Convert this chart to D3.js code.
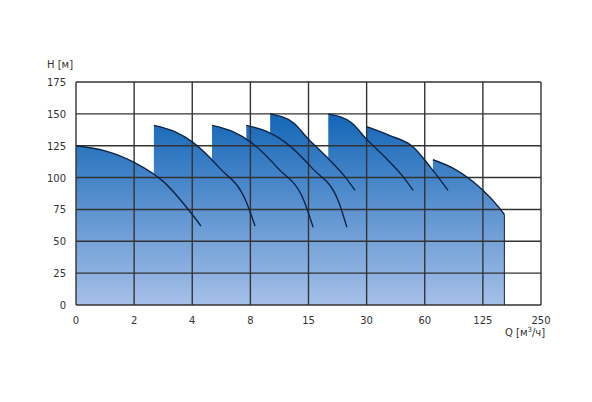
<!DOCTYPE html><html><head><meta charset="utf-8"><script src="https://cdn.jsdelivr.net/npm/d3@7"></script>
<style>body{margin:0;background:#fff}</style></head><body><svg id="c" width="592" height="402"></svg><script>
const xTicks=["0","2","4","8","15","30","60","125","250"];
const yTicks=[0,25,50,75,100,125,150,175];
// curves: [position on category axis (index units), H in m]
const curve1=[[0,125],[0.5,121],[1,112],[1.5,97],[2,71],[2.15,62]];
const curve2=[[1.34,141],[1.7,136],[2.0,128],[2.48,107],[2.92,82],[3.08,62]];
const curve3=[[2.34,141],[2.7,136],[3.0,128],[3.48,107],[3.92,82],[4.08,61]];
const curve4=[[2.93,141],[3.29,136],[3.59,128],[4.07,107],[4.51,82],[4.66,61]];
const curve5=[[3.34,150],[3.74,143],[4.0,130],[4.34,115],[4.64,100],[4.8,90]];
const curve6=[[4.34,150],[4.74,143],[5.0,130],[5.34,115],[5.64,100],[5.8,90]];
const curve7=[[5.0,140],[5.4,133],[5.8,124],[6.1,108],[6.4,90]];
const curve8=[[6.14,114],[6.5,107],[7.0,90],[7.25,78],[7.37,71]];
const curves=[curve1,curve2,curve3,curve4,curve5,curve6,curve7,curve8];
const svg=d3.select("#c");
const x=d3.scaleLinear().domain([0,8]).range([76,541]);
const y=d3.scaleLinear().domain([0,175]).range([305,82]);
const g=svg.append("defs").append("linearGradient").attr("id","gr").attr("gradientUnits","userSpaceOnUse")
 .attr("x1",0).attr("x2",0).attr("y1",y(150)).attr("y2",y(0));
g.append("stop").attr("offset",0).attr("stop-color","#1366b7");
g.append("stop").attr("offset",1).attr("stop-color","#a6c0e8");
const area=d3.area().x(d=>x(d[0])).y0(y(0)).y1(d=>y(d[1])).curve(d3.curveMonotoneX);
curves.forEach(c=>svg.append("path").attr("d",area(c)).attr("fill","url(#gr)"));
const gc="#333";
xTicks.forEach((t,i)=>{svg.append("line").attr("x1",x(i)).attr("x2",x(i)).attr("y1",y(0)).attr("y2",y(175)).attr("stroke",gc).attr("stroke-width",1.4);
 svg.append("text").attr("x",x(i)).attr("y",324).attr("text-anchor","middle").attr("font-family","DejaVu Sans").attr("font-size",10).attr("fill","#333").text(t);});
yTicks.forEach(t=>{svg.append("line").attr("x1",x(0)).attr("x2",x(8)).attr("y1",y(t)).attr("y2",y(t)).attr("stroke",gc).attr("stroke-width",1.4);
 svg.append("text").attr("x",66).attr("y",y(t)+4).attr("text-anchor","end").attr("font-family","DejaVu Sans").attr("font-size",10).attr("fill","#333").text(t);});
const line=d3.line().x(d=>x(d[0])).y(d=>y(d[1])).curve(d3.curveMonotoneX);
curves.forEach((c,i)=>{
 svg.append("path").attr("d",line(c)).attr("fill","none").attr("stroke","#0d2545").attr("stroke-width",1.4);
});
// vertical end of last curve
svg.append("line").attr("x1",x(curve8[4][0])).attr("x2",x(curve8[4][0])).attr("y1",y(curve8[4][1])).attr("y2",y(0)).attr("stroke","#0d2545").attr("stroke-width",1);
svg.append("text").attr("x",47).attr("y",68).attr("font-family","DejaVu Sans").attr("font-size",10).attr("fill","#333").text("H [м]");
svg.append("text").attr("x",505).attr("y",336).attr("font-family","DejaVu Sans").attr("font-size",10).attr("fill","#333").html('Q [м<tspan dy="-4" font-size="7">3</tspan><tspan dy="4">/ч]</tspan>');
</script></body></html>
